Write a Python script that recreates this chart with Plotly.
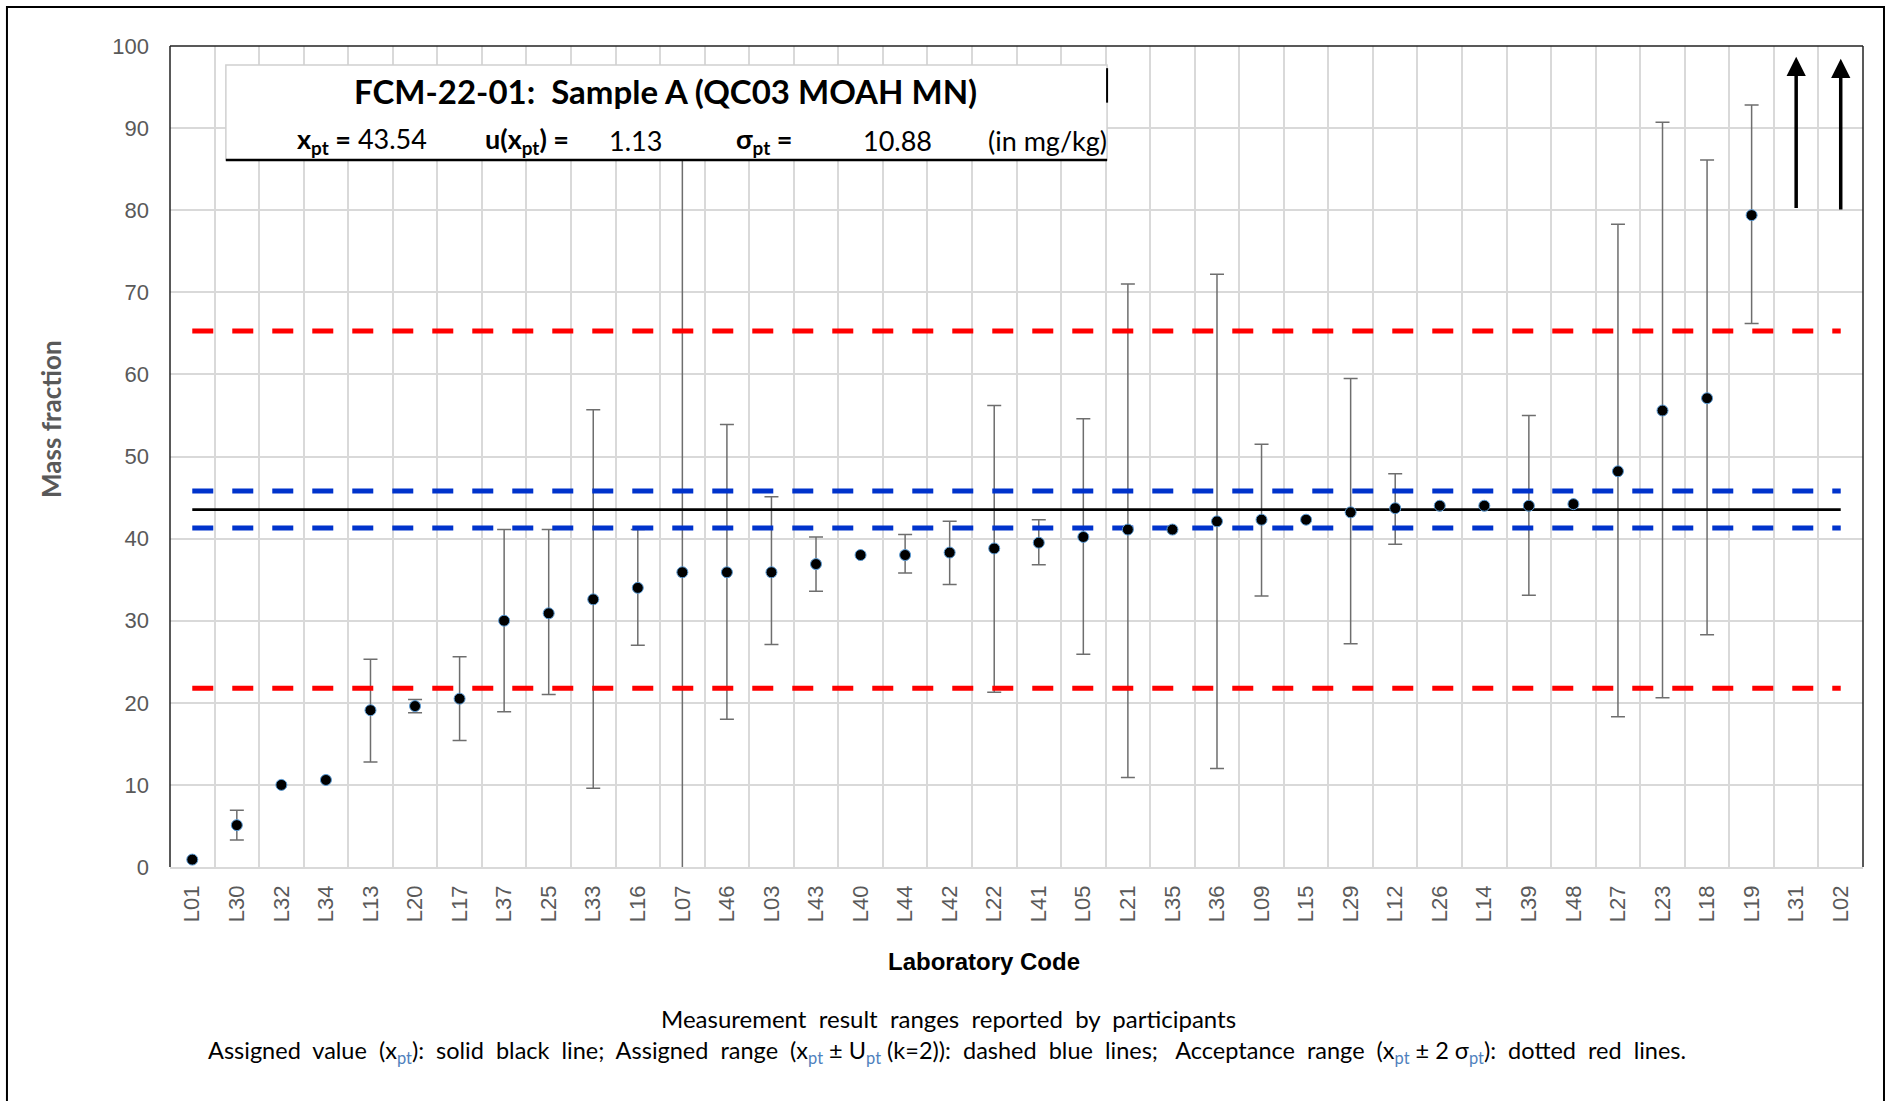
import plotly.graph_objects as go

# ---------------- data ----------------
labs = ["L01", "L30", "L32", "L34", "L13", "L20", "L17", "L37", "L25", "L33",
        "L16", "L07", "L46", "L03", "L43", "L40", "L44", "L42", "L22", "L41",
        "L05", "L21", "L35", "L36", "L09", "L15", "L29", "L12", "L26", "L14",
        "L39", "L48", "L27", "L23", "L18", "L19", "L31", "L02"]

values = [0.9, 5.1, 10.0, 10.6, 19.1, 19.6, 20.5, 30.0, 30.9, 32.6,
          34.0, 35.9, 35.9, 35.9, 36.9, 38.0, 38.0, 38.3, 38.8, 39.5,
          40.2, 41.1, 41.1, 42.1, 42.3, 42.3, 43.2, 43.7, 44.0, 44.0,
          44.0, 44.2, 48.2, 55.6, 57.1, 79.4, None, None]

upper = [None, 6.9, None, None, 25.3, 20.4, 25.6, 41.1, 41.1, 55.7,
         41.1, 95.0, 53.9, 45.1, 40.2, None, 40.5, 42.1, 56.2, 42.3,
         54.6, 71.0, None, 72.2, 51.5, None, 59.5, 47.9, None, None,
         55.0, None, 78.3, 90.7, 86.1, 92.8, None, None]

lower = [None, 3.3, None, None, 12.8, 18.8, 15.4, 18.9, 21.0, 9.6,
         27.0, -1.0, 18.0, 27.1, 33.6, None, 35.8, 34.4, 21.3, 36.8,
         25.9, 10.9, None, 12.0, 33.0, None, 27.2, 39.3, None, None,
         33.1, None, 18.3, 20.6, 28.3, 66.2, None, None]

# labs whose result is off-scale (arrows)
arrow_labs = ["L31", "L02"]
arrow_from = [80.1, 79.9]
arrow_to = [98.7, 98.45]

x_pt = 43.54
u_pt = 1.13
sigma_pt = 10.88
y_ticks = [0, 10, 20, 30, 40, 50, 60, 70, 80, 90, 100]

title_text = "FCM-22-01:  Sample A (QC03 MOAH MN)"

# ---------------- derived ----------------
eb_x = [l for l, u in zip(labs, upper) if u is not None]
eb_y = [v for v, u in zip(values, upper) if u is not None]
eb_hi = [u - v for v, u in zip(values, upper) if u is not None]
eb_lo = [v - lo for v, lo in zip(values, lower) if lo is not None]

pt_x = [l for l, v in zip(labs, values) if v is not None]
pt_y = [v for v in values if v is not None]

assigned_hi = x_pt + 2 * u_pt
assigned_lo = x_pt - 2 * u_pt
accept_hi = x_pt + 2 * sigma_pt
accept_lo = x_pt - 2 * sigma_pt

fig = go.Figure()

# error bars
fig.add_trace(go.Scatter(
    x=eb_x, y=eb_y, mode="markers",
    marker=dict(size=1, opacity=0),
    error_y=dict(type="data", symmetric=False, array=eb_hi, arrayminus=eb_lo,
                 color="#6e6e6e", thickness=1.5, width=7),
    showlegend=False, hoverinfo="skip"))

dash = "21px,19px"
line_x = [labs[0], labs[-1]]
fig.add_trace(go.Scatter(x=line_x, y=[x_pt, x_pt], mode="lines",
                         line=dict(color="black", width=2.8), showlegend=False))
for yv in (assigned_hi, assigned_lo):
    fig.add_trace(go.Scatter(x=line_x, y=[yv, yv], mode="lines",
                             line=dict(color="#0033cc", width=5, dash=dash),
                             showlegend=False))
for yv in (accept_hi, accept_lo):
    fig.add_trace(go.Scatter(x=line_x, y=[yv, yv], mode="lines",
                             line=dict(color="#ff0000", width=5, dash=dash),
                             showlegend=False))

# points
fig.add_trace(go.Scatter(
    x=pt_x, y=pt_y, mode="markers",
    marker=dict(size=11, color="black", line=dict(color="#5b9bd5", width=1)),
    showlegend=False))

# arrows for off-scale results
for lab, y0, y1 in zip(arrow_labs, arrow_from, arrow_to):
    idx = labs.index(lab)
    fig.add_annotation(x=idx, y=y1, ax=idx, ay=y0, xref="x", yref="y",
                       axref="x", ayref="y", text="", showarrow=True,
                       arrowhead=2, arrowsize=1.1, arrowwidth=3.5,
                       arrowcolor="black", standoff=0, startstandoff=0)

# ---------------- title box ----------------
bx0, bx1, by0, by1 = 0.033, 0.5535, 0.861, 0.977
fig.add_shape(type="rect", xref="paper", yref="paper", x0=bx0, x1=bx1,
              y0=by0, y1=by1, fillcolor="white",
              line=dict(color="#d0d0d0", width=1.5), layer="above")
fig.add_shape(type="line", xref="paper", yref="paper", x0=bx0, x1=bx1,
              y0=by0, y1=by0, line=dict(color="black", width=2.5), layer="above")
fig.add_shape(type="line", xref="paper", yref="paper", x0=bx1, x1=bx1,
              y0=(by0 + by1) / 2 + 0.012, y1=by1 - 0.004,
              line=dict(color="black", width=2), layer="above")

box_font = "Lato, 'Open Sans', sans-serif"
fig.add_annotation(xref="paper", yref="paper", x=0.2924, y=0.9452,
                   text="<b>" + title_text + "</b>", showarrow=False,
                   font=dict(family=box_font, size=33, color="black"),
                   xanchor="center", yanchor="middle")
row_y = 0.8843
row_items = [
    (0.0738, "<b>x<sub>pt</sub> =</b> %.2f" % x_pt),
    (0.1849, "<b>u(x<sub>pt</sub>) =</b>"),
    (0.2581, "%.2f" % u_pt),
    (0.3332, "<b>σ<sub>pt</sub> =</b>"),
    (0.4079, "%.2f" % sigma_pt),
    (0.4817, "(in mg/kg)"),
]
for xp, txt in row_items:
    fig.add_annotation(xref="paper", yref="paper", x=xp, y=row_y, text=txt,
                       showarrow=False, xanchor="left", yanchor="middle",
                       font=dict(family=box_font, size=27, color="black"))

# ---------------- axis titles and caption ----------------
fig.add_annotation(xref="paper", yref="paper", x=-0.0703, y=0.5457,
                   text="<b>Mass fraction</b>", textangle=-90, showarrow=False,
                   font=dict(family=box_font, size=26, color="#595959"),
                   xanchor="center", yanchor="middle")
fig.add_annotation(xref="paper", yref="paper", x=0.481, y=-0.1157,
                   text="<b>Laboratory Code</b>", showarrow=False,
                   font=dict(family="Liberation Sans, Arial", size=24, color="black"),
                   xanchor="center", yanchor="middle")
sub = "<sub><span style='color:#4f81bd'>pt</span></sub>"
fig.add_annotation(xref="paper", yref="paper", x=0.460, y=-0.185,
                   text="Measurement  result  ranges  reported  by  participants",
                   showarrow=False,
                   font=dict(family=box_font, size=24, color="black"),
                   xanchor="center", yanchor="middle")
fig.add_annotation(xref="paper", yref="paper", x=0.459, y=-0.2253,
                   text=("Assigned  value  (x" + sub + "):  solid  black  line;  Assigned  range  (x" + sub +
                         " ± U" + sub + " (k=2)):  dashed  blue  lines;   Acceptance  range  (x" + sub +
                         " ± 2 σ" + sub + "):  dotted  red  lines."),
                   showarrow=False,
                   font=dict(family=box_font, size=23.5, color="black"),
                   xanchor="center", yanchor="middle")

# ---------------- borders ----------------
fig.add_shape(type="rect", xref="paper", yref="paper", x0=-0.0963, x1=1.0124,
              y0=-0.35, y1=1.0475, line=dict(color="black", width=2),
              fillcolor="rgba(0,0,0,0)", layer="below")
for (x0, y0, x1, y1) in [(0, 0, 0, 1), (0, 1, 1, 1), (1, 0, 1, 1)]:
    fig.add_shape(type="line", xref="paper", yref="paper", x0=x0, y0=y0,
                  x1=x1, y1=y1, line=dict(color="#222222", width=1.5))

fig.update_xaxes(type="category", categoryorder="array", categoryarray=labs,
                 range=[-0.5, len(labs) - 0.5], tickangle=-90,
                 tickson="boundaries", showgrid=True, gridcolor="#d9d9d9",
                 gridwidth=1.5, ticks="", ticklabelstandoff=8,
                 tickfont=dict(family="Liberation Sans, Arial", size=22, color="#595959"),
                 showline=True, linecolor="#d9d9d9", linewidth=1.5,
                 zeroline=False, fixedrange=True)
fig.update_yaxes(range=[0, 100], tickvals=y_ticks, showgrid=True,
                 gridcolor="#d9d9d9", gridwidth=1.5, ticks="",
                 ticklabelstandoff=20, zeroline=False,
                 tickfont=dict(family="Liberation Sans, Arial", size=22, color="#595959"),
                 fixedrange=True)

fig.update_layout(width=1903, height=1101,
                  margin=dict(l=170, r=40, t=46, b=234, pad=0),
                  plot_bgcolor="white", paper_bgcolor="white",
                  showlegend=False)

fig.write_html("out.html", config={"displayModeBar": False},
               post_script="document.body.style.margin='0';document.body.style.overflow='hidden';")
